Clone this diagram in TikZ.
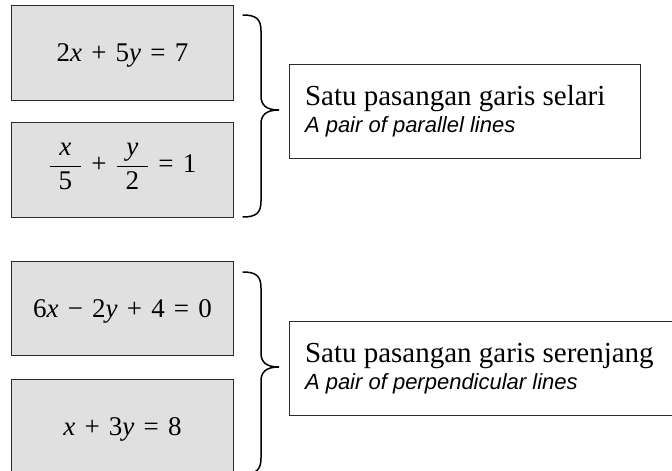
\documentclass[tikz,border=0pt]{standalone}
\usepackage{fontspec}
\usepackage{xcolor}
\usepackage{tikz}
\setmainfont{Liberation Serif}
\setsansfont{Liberation Sans}
\definecolor{eqfill}{HTML}{E0E0E0}
\definecolor{edgecolor}{HTML}{2B2B2B}
\newcommand{\eqgap}{\hspace{0.34em}}
\newcommand{\plainspaces}{\spaceskip=0pt\relax\xspaceskip=0pt\relax}
\newcommand{\glos}[1]{{\fontsize{22}{27}\selectfont\sffamily\itshape\plainspaces #1}}
\tikzset{
  eqbox/.style={draw=edgecolor, line width=1pt, rectangle, fill=eqfill, minimum width=221.6pt, minimum height=94.5pt, inner sep=0pt, text height=17.8pt, text depth=0pt, font=\fontsize{27}{32}\selectfont},
  namebox/.style={draw=edgecolor, line width=1pt, rectangle, minimum height=94pt, inner xsep=16pt, inner ysep=0pt, align=left, font=\fontsize{29}{27}\selectfont},
  bracket/.style={line width=1.5pt, line cap=round}
}

\begin{document}
\begin{tikzpicture}[x=1pt, y=-1pt]%
\useasboundingbox (0,0) rectangle (672,471);%
\clip (0,0) rectangle (672,471);%
\node[eqbox] (eqa) at (122.5, 53) {2\textit{x}\eqgap+\eqgap5\textit{y}\eqgap=\eqgap7};%
\node[eqbox, text height=23pt, text depth=18pt] (eqb) at (122.5, 170.2) {$\displaystyle\frac{\makebox[1.15em]{\textit{x}}}{\makebox[1.15em]{\textup{5}}}$\eqgap+\eqgap$\displaystyle\frac{\makebox[1.15em]{\textit{y}}}{\makebox[1.15em]{\textup{2}}}$\eqgap=\eqgap1};%
\node[eqbox] (eqc) at (122.5, 308.3) {6\textit{x}\eqgap−\eqgap2\textit{y}\eqgap+\eqgap4\eqgap=\eqgap0};%
\node[eqbox] (eqd) at (122.5, 427) {\textit{x}\eqgap+\eqgap3\textit{y}\eqgap=\eqgap8};%
\draw[bracket] (243,15) .. controls (256,15) and (261,19) .. (261,31) -- (261,96) .. controls (261,105) and (266,110) .. (279,110) .. controls (266,110) and (261,115) .. (261,124) -- (261,201) .. controls (261,213) and (256,217) .. (243,217);%
\draw[bracket] (243,272) .. controls (256,272) and (261,276) .. (261,288) -- (261,353) .. controls (261,362) and (266,367) .. (279,367) .. controls (266,367) and (261,372) .. (261,381) -- (261,458) .. controls (261,470) and (256,474) .. (243,474);%
\node[namebox, minimum width=351pt, text width=319pt] (pairpar) at (464.5, 111) {\plainspaces Satu pasangan garis selari\\\glos{A pair of parallel lines}};%
\node[namebox, minimum width=395pt, text width=363pt] (pairperp) at (486.5, 368.7) {\plainspaces Satu pasangan garis serenjang\\\glos{A pair of perpendicular lines}};%
\end{tikzpicture}
\end{document}
